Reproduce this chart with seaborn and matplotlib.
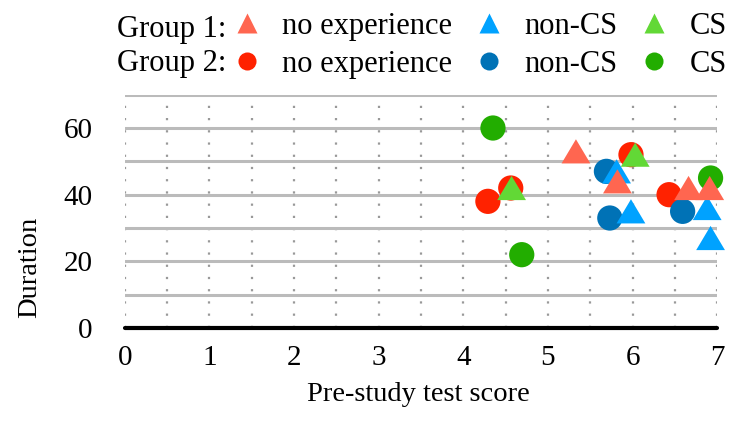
import matplotlib
matplotlib.use('Agg')
import matplotlib.pyplot as plt
from matplotlib.lines import Line2D
import seaborn as sns
import numpy as np

# Group 1 (triangles)
g1_noexp_x = [5.33, 5.82, 6.66, 6.91]
g1_noexp_y = [53, 44, 42, 42]
g1_noncs_x = [5.81, 5.98, 6.88, 6.92]
g1_noncs_y = [47, 35, 36, 27]
g1_cs_x = [4.57, 6.03]
g1_cs_y = [42, 52]

# Group 2 (circles)
g2_noexp_x = [4.29, 4.56, 5.98, 6.43]
g2_noexp_y = [38, 42, 52, 40]
g2_noncs_x = [5.69, 5.73, 6.59]
g2_noncs_y = [47, 33, 35]
g2_cs_x = [4.35, 4.69, 6.92]
g2_cs_y = [60, 22, 45]

categories = ['no experience', 'non-CS', 'CS']
col1 = {'no experience': '#ff6650', 'non-CS': '#00a2ff', 'CS': '#62d836'}
col2 = {'no experience': '#ff2200', 'non-CS': '#0072b6', 'CS': '#22ad00'}

# slightly flattened triangle, as in the original
tri = [(0, 0.84), (-1, -0.84), (1, -0.84), (0, 0.84)]
FS = 20.5
LFS = 22

sns.set_theme(style='white')
plt.rcParams['font.family'] = ['Liberation Serif', 'DejaVu Serif']
plt.rcParams['text.color'] = 'black'
plt.rcParams['axes.labelcolor'] = 'black'
plt.rcParams['xtick.color'] = 'black'
plt.rcParams['ytick.color'] = 'black'

fig = plt.figure(figsize=(7.29, 4.24), dpi=100)
ax = fig.add_axes([0.171, 0.2264, 0.813, 0.5503])

g2 = {'no experience': (g2_noexp_x, g2_noexp_y),
      'non-CS': (g2_noncs_x, g2_noncs_y),
      'CS': (g2_cs_x, g2_cs_y)}
g1 = {'no experience': (g1_noexp_x, g1_noexp_y),
      'non-CS': (g1_noncs_x, g1_noncs_y),
      'CS': (g1_cs_x, g1_cs_y)}

for c in categories:
    x, y = g2[c]
    sns.scatterplot(x=x, y=y, ax=ax, marker='o', s=330, color=col2[c],
                    edgecolor='none', linewidth=0, legend=False, zorder=3, clip_on=False)
for c in ['non-CS', 'no experience', 'CS']:
    x, y = g1[c]
    sns.scatterplot(x=x, y=y, ax=ax, marker=tri, s=430, color=col1[c],
                    edgecolor='none', linewidth=0, legend=False, zorder=4, clip_on=False)

ax.set_xlim(0, 7)
ax.set_ylim(0, 70)
ax.set_xticks(range(0, 8))
ax.set_yticks([0, 20, 40, 60])
ax.tick_params(axis='both', which='both', length=0, labelsize=21, labelcolor='black')
ax.tick_params(axis='x', pad=12)
ax.tick_params(axis='y', pad=23)

for v in np.arange(0, 7.01, 0.5):
    ax.axvline(v, color='#999999', lw=1.6, ls=(0, (1, 4.5)), zorder=1)
for v in range(10, 71, 10):
    ax.axhline(v, color='#bbbbbb', lw=2.2, zorder=1)
ax.axhline(0, color='black', lw=3, zorder=2, clip_on=False)

for s in ax.spines.values():
    s.set_visible(False)

ax.set_xlabel('Pre-study test score', fontsize=FS, color='black')
ax.set_ylabel('Duration', fontsize=FS, color='black')
ax.xaxis.set_label_coords(0.496, -0.231)
ax.yaxis.set_label_coords(-0.1385, 0.261)

handles, labels = [], []
for c in categories:
    handles.append(Line2D([], [], ls='none', marker='^', ms=15, color=col1[c], mec='none'))
    labels.append(c)
    handles.append(Line2D([], [], ls='none', marker='o', ms=13, color=col2[c], mec='none'))
    labels.append(c)
leg = fig.legend(handles, labels, ncol=3, loc='center left', bbox_to_anchor=(0.318, 0.893),
                 frameon=False, fontsize=LFS, handletextpad=0.64, columnspacing=0.72,
                 labelspacing=0.28, handlelength=1.0, borderaxespad=0, borderpad=0)
for t in leg.get_texts():
    t.set_color('black')
fig.text(117 / 729, 1 - 29 / 424, 'Group 1:', fontsize=LFS, va='center', ha='left', color='black')
fig.text(117 / 729, 1 - 64 / 424, 'Group 2:', fontsize=LFS, va='center', ha='left', color='black')

fig.savefig('out.png', dpi=100)
